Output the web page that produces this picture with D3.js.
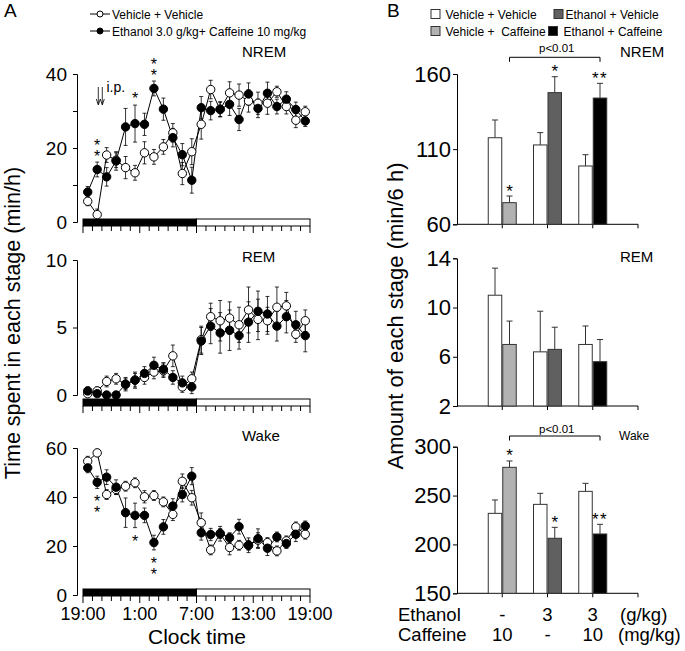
<!DOCTYPE html>
<html><head><meta charset="utf-8">
<script src="https://cdn.jsdelivr.net/npm/d3@7/dist/d3.min.js"></script>
<style>body{margin:0;background:#fff}svg{font-family:"Liberation Sans",Arial,Helvetica,sans-serif}
.vstar{writing-mode:vertical-rl;text-orientation:upright}</style>
</head><body><svg id="c" width="685" height="651"></svg>
<script>
// ---------- DATA (panel A: hourly, 24 bins from 19:00) ----------
const hourBins = d3.range(24);
const timeTicks = [0, 6, 12, 18, 24];
const timeTickLabels = ["19:00", "1:00", "7:00", "13:00", "19:00"];

const nremVeh    = [5.6, 2.0, 18.1, 16.7, 14.7, 13.3, 18.7, 17.6, 20.3, 24.1, 13.1, 19.0, 26.4, 35.8, 30.4, 34.9, 34.3, 32.7, 32.1, 32.1, 35.2, 31.2, 27.5, 29.8];
const nremVehErr = [1.2, 1.5, 2.0, 2.0, 3.0, 2.0, 3.0, 2.0, 2.0, 2.5, 3.0, 3.5, 4.0, 2.5, 2.0, 3.0, 3.0, 3.0, 3.0, 3.0, 1.5, 2.0, 2.0, 1.5];
const nremEC     = [8.1, 14.2, 12.2, 16.5, 25.7, 26.6, 26.4, 36.1, 30.5, 22.8, 18.2, 11.3, 30.9, 30.1, 30.5, 31.8, 27.7, 34.6, 30.7, 34.8, 31.2, 33.2, 30.4, 27.3];
const nremECErr  = [1.5, 2.0, 2.5, 2.5, 5.0, 5.0, 3.0, 2.0, 3.0, 2.5, 3.0, 3.5, 3.0, 2.5, 2.0, 3.0, 3.0, 3.0, 2.5, 3.0, 2.0, 2.0, 2.0, 1.5];

const remVeh     = [0.1, 0.3, 1.0, 1.2, 0.8, 1.1, 1.3, 1.7, 1.8, 2.9, 0.6, 1.2, 4.1, 5.8, 5.5, 5.7, 5.2, 6.3, 5.6, 5.5, 6.5, 6.6, 4.5, 5.5];
const remVehErr  = [0.3, 0.3, 0.4, 0.4, 0.4, 0.5, 0.5, 0.5, 0.5, 0.8, 0.4, 0.5, 1.0, 1.0, 1.5, 1.2, 1.3, 1.7, 1.5, 1.0, 1.5, 1.0, 0.6, 0.8];
const remEC      = [0.3, 0.1, 0.0, 0.0, 0.8, 1.1, 1.6, 2.2, 1.9, 1.3, 0.9, 0.6, 4.0, 5.1, 4.6, 4.8, 4.4, 5.4, 6.2, 6.0, 5.1, 5.8, 5.2, 4.4];
const remECErr   = [0.3, 0.2, 0.2, 0.2, 0.5, 0.6, 0.5, 0.6, 0.5, 0.5, 0.5, 0.5, 1.0, 1.3, 1.5, 1.5, 1.0, 1.5, 1.5, 1.3, 1.1, 1.2, 1.0, 1.2];

const wakeVeh    = [54.6, 58.0, 41.0, 43.1, 44.4, 45.8, 40.1, 40.6, 38.0, 32.9, 46.4, 39.7, 29.5, 18.4, 25.0, 19.4, 20.3, 20.3, 22.4, 21.4, 18.0, 22.1, 27.8, 24.8];
const wakeVehErr = [2.0, 1.5, 2.0, 2.0, 2.0, 2.0, 2.5, 2.0, 2.0, 2.5, 3.0, 3.0, 4.0, 2.0, 3.0, 3.0, 2.0, 2.0, 3.0, 2.0, 2.0, 2.0, 2.0, 2.0];
const wakeEC     = [51.9, 46.0, 48.1, 44.0, 33.6, 32.5, 32.5, 21.4, 27.8, 36.3, 41.0, 48.5, 25.4, 24.7, 25.1, 23.4, 27.9, 20.3, 23.0, 19.1, 23.7, 21.0, 24.8, 28.2];
const wakeECErr  = [2.0, 2.5, 3.0, 3.0, 6.0, 5.0, 3.0, 3.0, 3.0, 3.0, 3.0, 3.5, 3.0, 2.5, 2.0, 2.0, 3.0, 3.0, 4.0, 3.0, 2.0, 2.0, 3.0, 2.0];

const nremStarsA = [{bin: 1, n: 2}, {bin: 5, n: 1}, {bin: 7, n: 2}];
const wakeStarsA = [{bin: 1, n: 2}, {bin: 5, n: 1}, {bin: 7, n: 2}];

const nremTicksA = [0, 10, 20, 30, 40], nremLabelsA = [0, 20, 40];
const remTicksA = [0, 5, 10], remLabelsA = [0, 5, 10];
const wakeTicksA = [0, 20, 40, 60], wakeLabelsA = [0, 20, 40, 60];

// ---------- DATA (panel B: amount per 6 h) ----------
const groups = ["Caffeine", "Ethanol", "Ethanol + Caffeine"];
const legendB = ["Vehicle + Vehicle", "Ethanol + Vehicle", "Vehicle +  Caffeine", "Ethanol + Caffeine"];
const treatColors = ["#b2b2b2", "#606060", "#000000"];

const nremCtrl = [117.6, 112.8, 98.8],  nremCtrlErr = [11.8, 8.2, 7.5];
const nremTreat = [74.4, 147.6, 144.0], nremTreatErr = [4.4, 10.6, 9.8];
const remCtrl = [11.0, 6.4, 7.0],       remCtrlErr = [2.2, 3.3, 1.5];
const remTreat = [7.0, 6.6, 5.6],       remTreatErr = [1.9, 1.8, 1.8];
const wakeCtrl = [231.8, 241.0, 254.3], wakeCtrlErr = [13.7, 11.3, 8.2];
const wakeTreat = [278.9, 206.3, 210.7], wakeTreatErr = [6.5, 11.2, 9.9];
const nremStarsB = ["*", "*", "**"];
const wakeStarsB = ["*", "*", "**"];

const nremTicksB = [60, 110, 160];
const remTicksB = [2, 6, 10, 14];
const wakeTicksB = [150, 200, 250, 300];

const ethanolRow = ["-", "3", "3"];
const caffeineRow = ["10", "-", "10"];

// ---------- DRAW ----------
const svg = d3.select("#c");

function txt(g, x, y, s, size, anchor) {
  return g.append("text").attr("x", x).attr("y", y).attr("font-size", size)
    .attr("text-anchor", anchor || "start").attr("fill", "#000").style("white-space", "pre").text(s);
}

// Panel letters
txt(svg, 4, 17, "A", 19);
txt(svg, 387, 17, "B", 19);

// Left legend
const legA = svg.append("g");
[[14, false, "Vehicle + Vehicle"], [31, true, "Ethanol 3.0 g/kg+ Caffeine 10 mg/kg"]].forEach(([y, filled, label]) => {
  legA.append("line").attr("x1", 90).attr("x2", 110).attr("y1", y).attr("y2", y).attr("stroke", "#000").attr("stroke-width", 1);
  legA.append("circle").attr("cx", 100).attr("cy", y).attr("r", 3).attr("fill", filled ? "#000" : "#fff").attr("stroke", "#000");
  txt(legA, 112, y + 4.5, label, 12);
});

// Left y title
svg.append("text").attr("transform", "translate(20,323) rotate(-90)").attr("text-anchor", "middle")
  .attr("font-size", 21.5).text("Time spent in each stage (min/h)");

const xL = d3.scaleLinear().domain([0, 24]).range([83, 310]);

const leftPanels = [
  {name: "NREM", veh: nremVeh, vehErr: nremVehErr, ec: nremEC, ecErr: nremECErr, domain: [0, 40], range: [222, 74],
   ticks: nremTicksA, labels: nremLabelsA, barTop: 219, labelY: 56.7, stars: nremStarsA, dir: -1},
  {name: "REM", veh: remVeh, vehErr: remVehErr, ec: remEC, ecErr: remECErr, domain: [0, 10], range: [395, 260],
   ticks: remTicksA, labels: remLabelsA, barTop: 399, labelY: 261.7, stars: [], dir: -1},
  {name: "Wake", veh: wakeVeh, vehErr: wakeVehErr, ec: wakeEC, ecErr: wakeECErr, domain: [0, 60], range: [595, 448],
   ticks: wakeTicksA, labels: wakeLabelsA, barTop: 589, labelY: 440.7, stars: wakeStarsA, dir: 1}
];

leftPanels.forEach((p, pi) => {
  const g = svg.append("g");
  const y = d3.scaleLinear().domain(p.domain).range(p.range);
  const ax = g.append("g").attr("transform", "translate(77,0)")
    .call(d3.axisLeft(y).tickValues(p.ticks).tickSize(4).tickSizeOuter(4).tickPadding(6)
      .tickFormat(d => p.labels.includes(d) ? d : ""));
  ax.selectAll("text").attr("font-size", 19).attr("font-family", null).attr("fill", "#000");
  ax.selectAll("path,line").attr("stroke", "#000");

  // light/dark bar
  g.append("rect").attr("x", xL(0)).attr("y", p.barTop).attr("width", xL(12) - xL(0)).attr("height", 7).attr("fill", "#000").attr("stroke", "#000");
  g.append("rect").attr("x", xL(12)).attr("y", p.barTop).attr("width", xL(24) - xL(12)).attr("height", 7).attr("fill", "#fff").attr("stroke", "#000");
  const hb = p.barTop + 7;
  g.selectAll(".ht").data(d3.range(25)).join("line")
    .attr("x1", d => xL(d)).attr("x2", d => xL(d)).attr("y1", hb).attr("y2", d => hb + (d % 6 === 0 ? 7 : 5))
    .attr("stroke", "#000").attr("stroke-width", 1);

  txt(g, 242, p.labelY, p.name, 15);

  const line = d3.line().x((d, i) => xL(i + 0.5)).y(d => y(d));
  [[p.veh, p.vehErr], [p.ec, p.ecErr]].forEach(([vals, errs]) => {
    const eg = g.append("g").attr("stroke", "#000").attr("stroke-width", 0.8);
    vals.forEach((v, i) => {
      const cx = xL(i + 0.5), lo = y(Math.max(0, v - errs[i])), hi = y(v + errs[i]);
      eg.append("line").attr("x1", cx).attr("x2", cx).attr("y1", lo).attr("y2", hi);
      eg.append("line").attr("x1", cx - 2).attr("x2", cx + 2).attr("y1", hi).attr("y2", hi);
      eg.append("line").attr("x1", cx - 2).attr("x2", cx + 2).attr("y1", lo).attr("y2", lo);
    });
  });
  [p.veh, p.ec].forEach(vals => {
    g.append("path").datum(vals).attr("d", line).attr("fill", "none").attr("stroke", "#000").attr("stroke-width", 1);
  });
  [[p.veh, false], [p.ec, true]].forEach(([vals, filled]) => {
    g.selectAll(null).data(vals).join("circle")
      .attr("cx", (d, i) => xL(i + 0.5)).attr("cy", d => y(d)).attr("r", 4.2)
      .attr("fill", filled ? "#000" : "#fff").attr("stroke", "#000").attr("stroke-width", 1);
  });

  // significance stars: one vertical text per group (stars stacked)
  p.stars.forEach(s => {
    const v = p.ec[s.bin], e = p.ecErr[s.bin];
    const firstCenter = p.dir < 0 ? y(v + e) - 10 - (s.n - 1) * 10 : y(v - e) + 10;
    if (s.n === 1) {
      txt(g, xL(s.bin + 0.5), firstCenter + 9, "*", 16, "middle");
    } else {
      g.append("text").attr("class", "vstar").attr("x", xL(s.bin + 0.5)).attr("y", firstCenter - 5)
        .attr("font-size", 16).attr("letter-spacing", -6).attr("fill", "#000").text("*".repeat(s.n));
    }
  });

  if (pi === 0) {
    [98.3, 102.3].forEach(ax0 => {
      g.append("line").attr("x1", ax0).attr("x2", ax0).attr("y1", 87).attr("y2", 104).attr("stroke", "#000").attr("stroke-width", 0.8);
      g.append("path").attr("d", `M${ax0 - 2},${99} L${ax0},${105} L${ax0 + 2},${99}`).attr("fill", "none").attr("stroke", "#000").attr("stroke-width", 0.8);
    });
    txt(g, 106.5, 92, "i.p.", 14);
  }
  if (pi === 2) {
    timeTicks.forEach((t, k) => txt(g, xL(t), 620, timeTickLabels[k], 18, "middle"));
    txt(g, 197, 644, "Clock time", 21, "middle");
  }
});

// ---------- Panel B ----------
const legB = svg.append("g");
[[431, 9.5, "#fff", legendB[0], 445.5], [554, 9.5, treatColors[1], legendB[1], 565.5],
 [431, 26.5, treatColors[0], legendB[2], 445.5], [548.5, 26.5, treatColors[2], legendB[3], 563.5]].forEach(([x, y, c, l, tx]) => {
  legB.append("rect").attr("x", x).attr("y", y).attr("width", 9).attr("height", 9).attr("fill", c).attr("stroke", "#333");
  txt(legB, tx, y + 9, l, 12);
});

svg.append("text").attr("transform", "translate(403,316) rotate(-90)").attr("text-anchor", "middle")
  .attr("font-size", 22).text("Amount of each stage (min/6 h)");

const xR = d3.scaleLinear().domain([0, 4]).range([457, 638]);
const rightPanels = [
  {name: "NREM", ctrl: nremCtrl, ctrlErr: nremCtrlErr, treat: nremTreat, treatErr: nremTreatErr, domain: [60, 160], range: [224.3, 74],
   ticks: nremTicksB, stars: nremStarsB, labelX: 620, labelY: 56.7, labelSize: 15, bracket: {y: 57.3, ty: 51.7}},
  {name: "REM", ctrl: remCtrl, ctrlErr: remCtrlErr, treat: remTreat, treatErr: remTreatErr, domain: [2, 14], range: [406, 258.3],
   ticks: remTicksB, stars: null, labelX: 620, labelY: 261.7, labelSize: 15, bracket: null},
  {name: "Wake", ctrl: wakeCtrl, ctrlErr: wakeCtrlErr, treat: wakeTreat, treatErr: wakeTreatErr, domain: [150, 300], range: [593.3, 446.7],
   ticks: wakeTicksB, stars: wakeStarsB, labelX: 619, labelY: 440, labelSize: 12, bracket: {y: 436, ty: 433.3}}
];

rightPanels.forEach(p => {
  const g = svg.append("g");
  const y = d3.scaleLinear().domain(p.domain).range(p.range);
  const ax = g.append("g").attr("transform", "translate(457,0)")
    .call(d3.axisLeft(y).tickValues(p.ticks).tickSize(4).tickSizeOuter(4).tickPadding(2));
  ax.selectAll("text").attr("font-size", 22).attr("font-family", null).attr("fill", "#000");
  ax.selectAll("path,line").attr("stroke", "#000");
  const base = p.range[0];
  g.append("line").attr("x1", xR(0)).attr("x2", xR(4)).attr("y1", base).attr("y2", base).attr("stroke", "#000");
  g.selectAll(null).data([1, 2, 3, 4]).join("line").attr("x1", d => xR(d)).attr("x2", d => xR(d))
    .attr("y1", base).attr("y2", base + 4).attr("stroke", "#000");

  groups.forEach((gname, k) => {
    const c = xR(k + 1);
    const bars = [
      {x0: c - 14, x1: c - 0.5, v: p.ctrl[k], e: p.ctrlErr[k], fill: "#fff"},
      {x0: c + 0.5, x1: c + 14, v: p.treat[k], e: p.treatErr[k], fill: treatColors[k]}
    ];
    bars.forEach(b => {
      const cx = (b.x0 + b.x1) / 2;
      g.append("line").attr("x1", cx).attr("x2", cx).attr("y1", y(b.v)).attr("y2", y(b.v + b.e)).attr("stroke", "#333");
      g.append("line").attr("x1", cx - 3).attr("x2", cx + 3).attr("y1", y(b.v + b.e)).attr("y2", y(b.v + b.e)).attr("stroke", "#333");
      g.append("rect").attr("x", b.x0).attr("y", y(b.v)).attr("width", b.x1 - b.x0).attr("height", base - y(b.v))
        .attr("fill", b.fill).attr("stroke", "#333").attr("stroke-width", 1);
    });
    if (p.stars) {
      const b = bars[1];
      const cy = y(b.v + b.e) - 8.5;
      txt(g, (b.x0 + b.x1) / 2, cy + 9, p.stars[k], 17, "middle").attr("letter-spacing", p.stars[k].length > 1 ? 1.5 : 0);
    }
  });

  txt(g, p.labelX, p.labelY, p.name, p.labelSize);

  if (p.bracket) {
    const xa = xR(1) + 7.25, xb = xR(3) + 7.25, by = p.bracket.y;
    g.append("path").attr("d", `M${xa},${by + 4.5} V${by} H${xb} V${by + 4.5}`).attr("fill", "none").attr("stroke", "#000");
    txt(g, (xa + xb) / 2 + 2, p.bracket.ty, "p<0.01", 11.5, "middle");
  }
});

// treatment rows
txt(svg, 398, 621, "Ethanol", 18.5);
txt(svg, 398, 641, "Caffeine", 18.5);
groups.forEach((gname, k) => {
  txt(svg, xR(k + 1), 621, ethanolRow[k], 18.5, "middle");
  txt(svg, xR(k + 1), 641, caffeineRow[k], 18.5, "middle");
});
txt(svg, 620, 621, "(g/kg)", 18.5);
txt(svg, 618, 641, "(mg/kg)", 18.5);
</script></body></html>
